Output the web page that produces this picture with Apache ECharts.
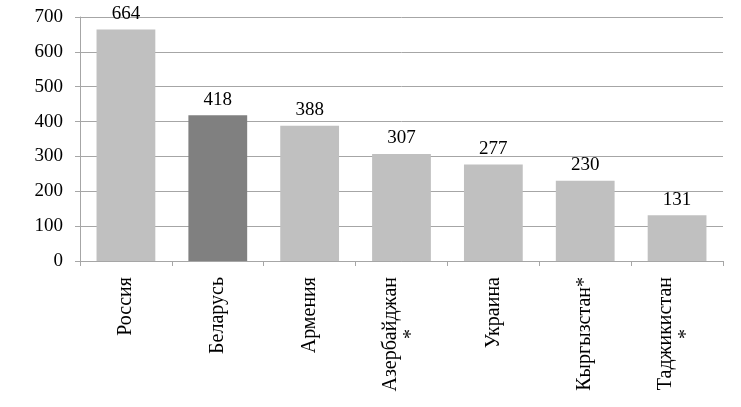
<!DOCTYPE html>
<html><head><meta charset="utf-8">
<script src="https://cdn.jsdelivr.net/npm/echarts@6/dist/echarts.min.js"></script>
<style>html,body{margin:0;padding:0;background:#fff}#c{width:741px;height:407px}</style>
</head><body><div id="c"></div>
<script>
const categories = ['Россия', 'Беларусь', 'Армения', 'Азербайджан\n*', 'Украина', 'Кыргызстан*', 'Таджикистан\n*'];
const values = [664, 418, 388, 307, 277, 230, 131];
const highlightIndex = 1;
const yTicks = [0, 100, 200, 300, 400, 500, 600, 700];

const font = '"Liberation Serif", "Times New Roman", serif';
const catSize = 20;
const ctx = document.createElement('canvas').getContext('2d');
ctx.font = catSize + 'px ' + font;
function fmt(v) {
  const lines = v.split('\n');
  if (lines.length === 1) return v;
  const w0 = ctx.measureText(lines[0]).width;
  return lines.map((l, i) => {
    if (i === 0) return l;
    const pad = Math.max(0, Math.round((w0 - ctx.measureText(l).width) / 2));
    return '{c' + pad + '|' + l + '}';
  }).join('\n');
}
const rich = {};
categories.forEach(c => {
  const lines = c.split('\n');
  if (lines.length > 1) {
    const w0 = ctx.measureText(lines[0]).width;
    for (let i = 1; i < lines.length; i++) {
      const pad = Math.max(0, Math.round((w0 - ctx.measureText(lines[i]).width) / 2));
      rich['c' + pad] = {padding: [0, pad, 0, 0], fontFamily: font, fontSize: catSize, lineHeight: 22, color: '#000'};
    }
  }
});

const chart = echarts.init(document.getElementById('c'), null, {renderer: 'canvas'});
chart.setOption({
  animation: false,
  grid: {left: 80, right: 18, top: 17, bottom: 146, containLabel: false},
  xAxis: {
    type: 'category',
    data: categories,
    axisLine: {lineStyle: {color: '#a6a6a6', width: 1}},
    axisTick: {show: true, length: 5, alignWithLabel: false, lineStyle: {color: '#a6a6a6'}},
    axisLabel: {rotate: 90, margin: 16, color: '#000', fontFamily: font, fontSize: catSize, lineHeight: 20, interval: 0, formatter: fmt, rich: rich}
  },
  yAxis: {
    type: 'value',
    min: yTicks[0], max: yTicks[yTicks.length - 1], interval: 100,
    axisLine: {show: true, lineStyle: {color: '#a6a6a6'}},
    axisTick: {show: true, length: 5, lineStyle: {color: '#a6a6a6'}},
    splitLine: {lineStyle: {color: '#a6a6a6', width: 1}},
    axisLabel: {margin: 17, color: '#000', fontFamily: font, fontSize: 19}
  },
  series: [{
    type: 'bar',
    barWidth: '64%',
    data: values.map((v, i) => ({value: v, itemStyle: {color: i === highlightIndex ? '#808080' : '#c0c0c0'}})),
    label: {show: true, position: 'top', distance: 6, color: '#000', fontFamily: font, fontSize: 19}
  }]
});
</script></body></html>
